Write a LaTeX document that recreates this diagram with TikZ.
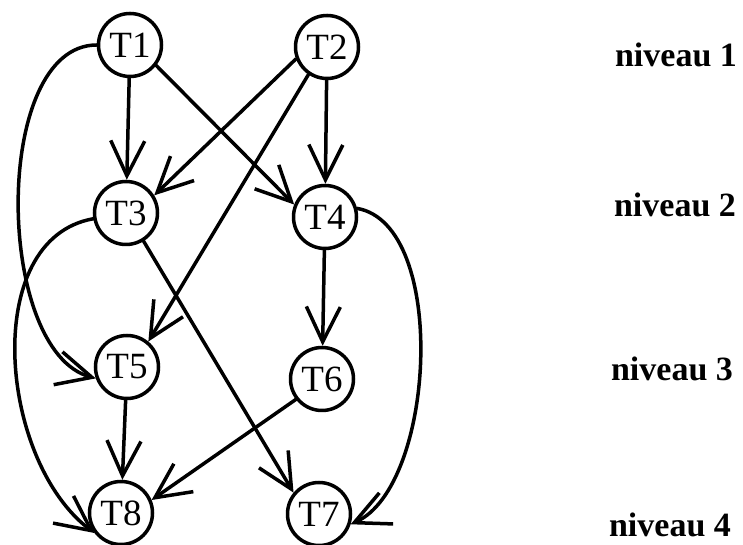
\documentclass[tikz,border=0pt]{standalone}
\usepackage{fontspec}
\setmainfont{Liberation Serif}
\usetikzlibrary{arrows.meta}

\begin{document}
\begin{tikzpicture}[x=1pt,y=1pt,
        tache/.style={circle,draw,line width=3.5pt,minimum size=63pt,inner sep=0pt,font=\fontsize{37}{40}\selectfont},
        lien/.style={line width=3.5pt,line cap=round,-{Straight Barb[length=35pt,width=34pt,line width=3.5pt]}},
        niveau/.style={font=\bfseries\fontsize{34}{40}\selectfont,anchor=base}]
        \useasboundingbox (0,0) rectangle (743,545);
        % taches
        \node[tache] (T1) at (130,500) {T1};
        \node[tache] (T2) at (327,498) {T2};
        \node[tache] (T3) at (126,332) {T3};
        \node[tache] (T4) at (325,328) {T4};
        \node[tache] (T5) at (127,178) {T5};
        \node[tache] (T6) at (322,166) {T6};
        \node[tache] (T8) at (121,32) {T8};
        \node[tache] (T7) at (319,31) {T7};
        % niveaux
        \node[niveau] (n1) at (676,478) {niveau 1};
        \node[niveau] (n2) at (675,328) {niveau 2};
        \node[niveau] (n3) at (672,164) {niveau 3};
        \node[niveau] (n4) at (670,8) {niveau 4};
        % liens
        \draw[lien] (T1) -- (T3);
        \draw[lien] (T1.-38) -- (T4.158);
        \draw[lien] (T2.201) -- (T3.32);
        \draw[lien] (T2.236) -- (T5.50);
        \draw[lien] (T2) -- (T4);
        \draw[lien] (T4) -- (T6);
        \draw[lien] (T3.-58) -- (T7.140);
        \draw[lien] (T5) -- (T8);
        \draw[lien] (T6.218) -- (T8.23);
        \draw[lien] (T1.west) .. controls +(180:105) and +(165:105) .. (T5.200);
        \draw[lien] (T3.190) .. controls +(190:115) and +(143:120) .. (T8.217);
        \draw[lien] (T4.15) .. controls +(-10:93) and +(24:93) .. (T7.-18);
\end{tikzpicture}
\end{document}
